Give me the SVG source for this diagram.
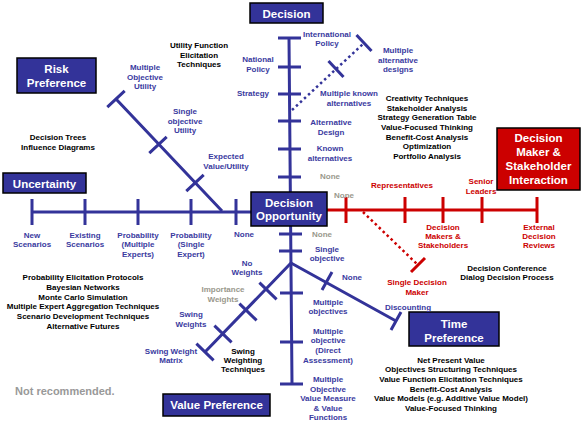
<svg xmlns="http://www.w3.org/2000/svg" width="583" height="425" viewBox="0 0 583 425">
<style>
text{font-family:"Liberation Sans",Arial,sans-serif;text-anchor:middle}
.b{font-size:8px;font-weight:bold;fill:#3a3aa0}
.k{font-size:8px;font-weight:bold;fill:#000}
.r{font-size:8px;font-weight:bold;fill:#cc0000}
.g{font-size:8px;font-weight:bold;fill:#9a988c}
.bx{fill:#333399;stroke:#000;stroke-width:1.5}
.rbx{fill:#cc0000;stroke:#000;stroke-width:1.5}
.t{font-size:11.5px;font-weight:bold;fill:#fff}
.bl{stroke:#333399;stroke-width:3;fill:none}
.rl{stroke:#cc0000;stroke-width:3;fill:none}
.bd{stroke:#333399;stroke-width:2.5;stroke-dasharray:2.5 3;fill:none}
.rd{stroke:#cc0000;stroke-width:2.5;stroke-dasharray:2.5 3;fill:none}
</style>
<g id="connectors">
<path class="bl" d="M289,38 L292,384 M278,38 H301 M278,67 H301 M278,94 H301 M278,121 H301 M278,149 H301 M278,177 H301 M279,234 H302 M279,251 H302 M280,293 H303 M280,342 H303 M280,384 H303"/>
<path class="bl" d="M291,263 L205,352 M259.4,282.7 L276.6,299.3 M239.4,303.7 L256.6,320.3 M214.4,325.7 L231.6,342.3 M196.4,343.7 L213.6,360.3"/>
<path class="bl" d="M291,263 L396,321 M322,290 L332,272 M391,330 L401,312"/>
<path class="bl" d="M116,99 L222,211 M107.3,107.2 L124.7,90.8 M149.3,153.2 L166.7,136.8 M186.3,191.2 L203.7,174.8"/>
<path class="bl" d="M32,212 H251 M32,199 V225 M85,199 V225 M138,199 V225 M191,199 V225 M236,199 V225"/>
<path class="rl" d="M327,210 H537 M346,197 V223 M405,197 V223 M443,197 V223 M482,197 V223 M537,197 V223"/>
<path class="bd" d="M292,110 L364,43"/>
<path class="bl" d="M356.5,35 L371.5,51 M328.5,61 L343.5,77" stroke-width="2.5"/>
<path class="rd" d="M363,212 L418,265"/>
<path class="rl" d="M411,272 L425,258" stroke-width="2.5"/>
</g>
<g id="decision">
<rect class="bx" x="250" y="3" width="73" height="20"/>
<text class="t" x="286.5" y="17.5">Decision</text>
</g>
<g id="risk-preference">
<rect class="bx" x="17" y="58" width="79" height="35"/>
<text class="t" x="56.5" y="73">Risk</text>
<text class="t" x="56.5" y="87">Preference</text>
</g>
<g id="uncertainty">
<rect class="bx" x="3" y="173" width="83" height="20"/>
<text class="t" x="44.5" y="187.5">Uncertainty</text>
</g>
<g id="decision-opportunity">
<rect class="bx" x="251" y="192" width="76" height="34"/>
<text class="t" x="289" y="206.5">Decision</text>
<text class="t" x="289" y="219.5">Opportunity</text>
</g>
<g id="dm-interaction">
<rect class="rbx" x="497" y="128" width="83" height="62"/>
<text class="t" x="538.5" y="142">Decision</text>
<text class="t" x="538.5" y="156">Maker &amp;</text>
<text class="t" x="538.5" y="170">Stakeholder</text>
<text class="t" x="538.5" y="183.5">Interaction</text>
</g>
<g id="time-preference">
<rect class="bx" x="409" y="312" width="90" height="34"/>
<text class="t" x="454" y="327.5">Time</text>
<text class="t" x="454" y="341.5">Preference</text>
</g>
<g id="value-preference">
<rect class="bx" x="163" y="394" width="107" height="22"/>
<text class="t" x="216.5" y="409">Value Preference</text>
</g>
<g id="labels">
<text class="b" x="327" y="37">International</text>
<text class="b" x="327" y="46">Policy</text>
<text class="b" x="258" y="62">National</text>
<text class="b" x="258" y="72">Policy</text>
<text class="b" x="253" y="96">Strategy</text>
<text class="b" x="349" y="96">Multiple known</text>
<text class="b" x="349" y="106">alternatives</text>
<text class="b" x="398" y="53">Multiple</text>
<text class="b" x="398" y="63">alternative</text>
<text class="b" x="398" y="72">designs</text>
<text class="b" x="331" y="125">Alternative</text>
<text class="b" x="331" y="135">Design</text>
<text class="b" x="330" y="151">Known</text>
<text class="b" x="330" y="161">alternatives</text>
<text class="g" x="330" y="179">None</text>
<text class="b" x="145" y="70">Multiple</text>
<text class="b" x="145" y="80">Objective</text>
<text class="b" x="145" y="89">Utility</text>
<text class="b" x="185" y="114">Single</text>
<text class="b" x="185" y="124">objective</text>
<text class="b" x="185" y="133">Utility</text>
<text class="b" x="226" y="159">Expected</text>
<text class="b" x="226" y="169">Value/Utility</text>
<text class="b" x="32" y="238">New</text>
<text class="b" x="32" y="247">Scenarios</text>
<text class="b" x="85" y="238">Existing</text>
<text class="b" x="85" y="247">Scenarios</text>
<text class="b" x="138" y="238">Probability</text>
<text class="b" x="138" y="247">(Multiple</text>
<text class="b" x="138" y="257">Experts)</text>
<text class="b" x="191" y="238">Probability</text>
<text class="b" x="191" y="247">(Single</text>
<text class="b" x="191" y="257">Expert)</text>
<text class="b" x="244" y="237">None</text>
<text class="g" x="344" y="198">None</text>
<text class="r" x="402" y="188">Representatives</text>
<text class="r" x="481" y="184">Senior</text>
<text class="r" x="481" y="194">Leaders</text>
<text class="r" x="443" y="230">Decision</text>
<text class="r" x="443" y="239">Makers &amp;</text>
<text class="r" x="443" y="248">Stakeholders</text>
<text class="r" x="539" y="230">External</text>
<text class="r" x="539" y="239">Decision</text>
<text class="r" x="539" y="248">Reviews</text>
<text class="r" x="417" y="285">Single Decision</text>
<text class="r" x="417" y="295">Maker</text>
<text class="g" x="322" y="237">None</text>
<text class="b" x="327" y="252">Single</text>
<text class="b" x="327" y="261">objective</text>
<text class="b" x="352" y="280">None</text>
<text class="b" x="247" y="266">No</text>
<text class="b" x="247" y="275">Weights</text>
<text class="g" x="223" y="292">Importance</text>
<text class="g" x="223" y="302">Weights</text>
<text class="b" x="191" y="317">Swing</text>
<text class="b" x="191" y="327">Weights</text>
<text class="b" x="171" y="354">Swing Weight</text>
<text class="b" x="171" y="363">Matrix</text>
<text class="b" x="328" y="305">Multiple</text>
<text class="b" x="328" y="314">objectives</text>
<text class="b" x="328" y="334">Multiple</text>
<text class="b" x="328" y="343">objective</text>
<text class="b" x="328" y="353">(Direct</text>
<text class="b" x="328" y="363">Assessment)</text>
<text class="b" x="328" y="382">Multiple</text>
<text class="b" x="328" y="392">Objective</text>
<text class="b" x="328" y="401">Value Measure</text>
<text class="b" x="328" y="411">&amp; Value</text>
<text class="b" x="328" y="420">Functions</text>
<text class="b" x="408" y="310">Discounting</text>
</g>
<g id="methods">
<text class="k" x="199" y="48">Utility Function</text>
<text class="k" x="199" y="58">Elicitation</text>
<text class="k" x="199" y="67">Techniques</text>
<text class="k" x="58" y="140">Decision Trees</text>
<text class="k" x="58" y="150">Influence Diagrams</text>
<text class="k" x="427" y="101">Creativity Techniques</text>
<text class="k" x="427" y="111">Stakeholder Analysis</text>
<text class="k" x="427" y="120">Strategy Generation Table</text>
<text class="k" x="427" y="130">Value-Focused Thinking</text>
<text class="k" x="427" y="140">Benefit-Cost Analysis</text>
<text class="k" x="427" y="149">Optimization</text>
<text class="k" x="427" y="159">Portfolio Analysis</text>
<text class="k" x="83" y="280">Probability Elicitation Protocols</text>
<text class="k" x="83" y="290">Bayesian Networks</text>
<text class="k" x="83" y="300">Monte Carlo Simulation</text>
<text class="k" x="83" y="309">Multiple Expert Aggregation Techniques</text>
<text class="k" x="83" y="319">Scenario Development Techniques</text>
<text class="k" x="83" y="329">Alternative Futures</text>
<text class="k" x="507" y="271">Decision Conference</text>
<text class="k" x="507" y="280">Dialog Decision Process</text>
<text class="k" x="243" y="354">Swing</text>
<text class="k" x="243" y="363">Weighting</text>
<text class="k" x="243" y="372">Techniques</text>
<text class="k" x="451" y="363">Net Present Value</text>
<text class="k" x="451" y="372">Objectives Structuring Techniques</text>
<text class="k" x="451" y="382">Value Function Elicitation Techniques</text>
<text class="k" x="451" y="392">Benefit-Cost Analysis</text>
<text class="k" x="451" y="401">Value Models (e.g. Additive Value Model)</text>
<text class="k" x="451" y="411">Value-Focused Thinking</text>
<text x="15" y="395" style="text-anchor:start;font-size:11px;font-weight:bold;fill:#999999">Not recommended.</text>
</g>
</svg>
